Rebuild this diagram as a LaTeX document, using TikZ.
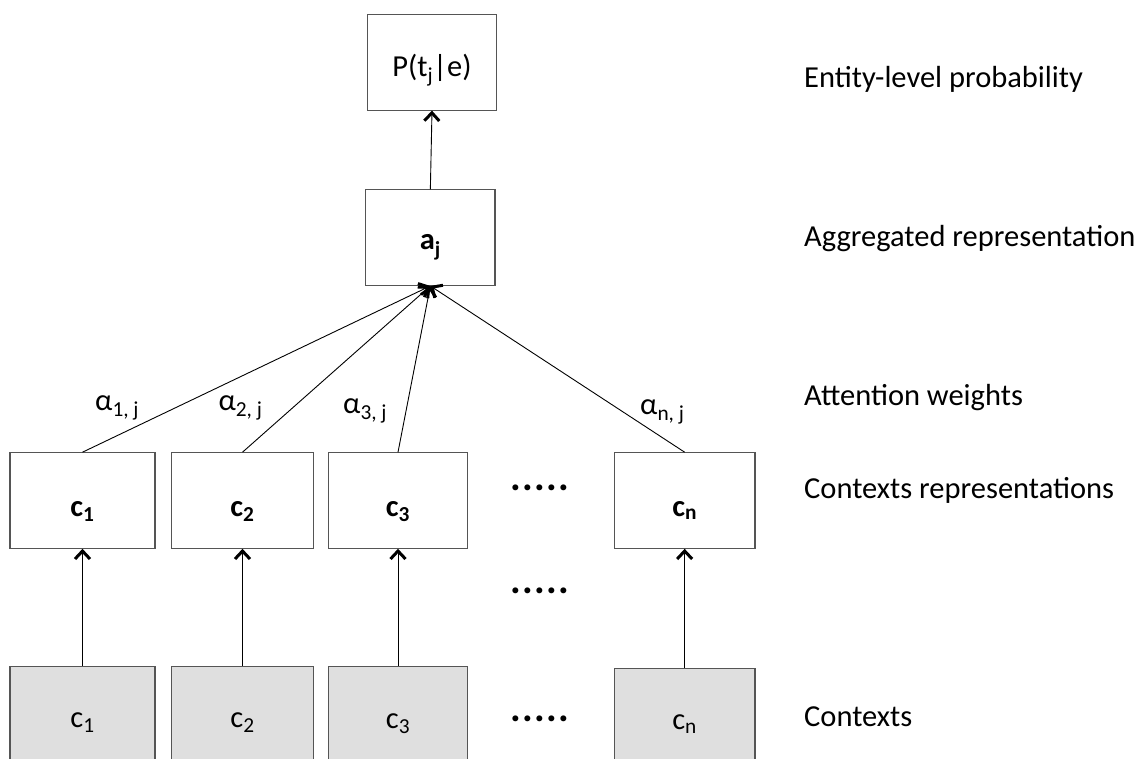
\documentclass[tikz,border=0pt]{standalone}
\usepackage{fontspec}
\setmainfont{Carlito}
\usetikzlibrary{arrows.meta}
\definecolor{edgegray}{HTML}{555555}
\definecolor{ctxfill}{HTML}{DFDFDF}
\newcommand\labelsize{\fontsize{30.5bp}{36bp}\selectfont}
\newcommand\dotrow{{\fontsize{40bp}{44bp}\selectfont\bfseries .\kern1.2bp.\kern1.2bp.\kern1.2bp.\kern1.2bp.}}

\begin{document}
\begin{tikzpicture}[x=1bp,y=-1bp,
  box/.style={draw=edgegray, line width=1.1bp, inner sep=0pt,
              minimum height=95.5bp, text depth=0bp, font=\labelsize},
  ctxbox/.style={box, fill=ctxfill, text height=27bp},
  repbox/.style={box, fill=white, text height=31bp},
  arr/.style={-{Straight Barb[length=8bp,width=15bp,line width=3bp]},
              line width=0.9bp, draw=black},
  side/.style={anchor=base west, font=\labelsize, inner sep=0pt},
  weight/.style={anchor=base west, font=\labelsize, inner sep=0pt},
  gap/.style={inner sep=0pt}
]
\useasboundingbox (0,0) rectangle (1142,759);
\clip (0,0) rectangle (1142,759);

% output and aggregation
\node[box, text height=28.4bp, minimum width=129.4bp] (prob) at (432,62.35)
  {P(t\textsubscript{j}|e)};
\node[box, text height=24.6bp, minimum width=129.3bp] (agg) at (430.35,237.65)
  {\textbf{a\textsubscript{j}}};

% context representations
\node[repbox, minimum width=145bp]   (r1) at (82.5,500.5)  {\textbf{c\textsubscript{1}}};
\node[repbox, minimum width=141.6bp] (r2) at (242.5,500.5) {\textbf{c\textsubscript{2}}};
\node[repbox, minimum width=139.4bp] (r3) at (398,500.5)   {\textbf{c\textsubscript{3}}};
\node[repbox, minimum width=140.7bp] (rn) at (684.65,500.5) {\textbf{c\textsubscript{n}}};

% raw contexts
\node[ctxbox, minimum width=145bp]   (x1) at (82.5,713.8)  {c\textsubscript{1}};
\node[ctxbox, minimum width=141.6bp] (x2) at (242.5,713.8) {c\textsubscript{2}};
\node[ctxbox, minimum width=139.4bp] (x3) at (398,714.5)   {c\textsubscript{3}};
\node[ctxbox, minimum width=140.7bp] (xn) at (684.65,716.1) {c\textsubscript{n}};

% elided columns
\node[gap] (d1) at (540,488.3) {\dotrow};
\node[gap] (d2) at (540,590.7) {\dotrow};
\node[gap] (d3) at (540,719.3) {\dotrow};

% connectors
\draw[arr] (agg.north) -- (prob.south);
\foreach \c in {1,2,3,n}{
  \draw[arr] (x\c.north) -- (r\c.south);
  \draw[arr] (r\c.north) -- (agg.south);
}

% attention weights
\node[weight] (w1) at (95,410)    {α\textsubscript{1, j}};
\node[weight] (w2) at (218.3,410) {α\textsubscript{2, j}};
\node[weight] (w3) at (343,413)   {α\textsubscript{3, j}};
\node[weight] (wn) at (640,414)   {α\textsubscript{n, j}};

% layer names
\node[side] (lp) at (804,87.3)  {Entity-level probability};
\node[side] (la) at (804,246)   {Aggregated representation};
\node[side] (lw) at (804,405)   {Attention weights};
\node[side] (lc) at (804,498.3) {Contexts representations};
\node[side] (lx) at (804,726.7) {Contexts};
\end{tikzpicture}
\end{document}
